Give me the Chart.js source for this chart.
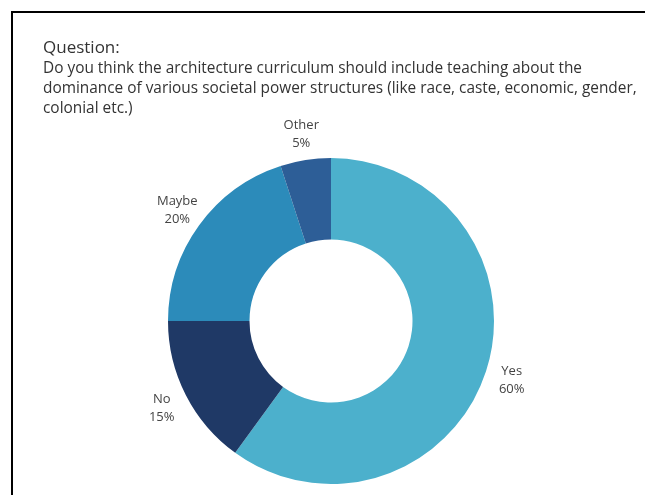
<!DOCTYPE html>
<html>
<head>
<meta charset="utf-8">
<script src="https://cdn.jsdelivr.net/npm/chart.js@4"></script>
<style>
  html, body { margin: 0; padding: 0; background: #fff; }
  body { width: 645px; height: 495px; position: relative; overflow: hidden; font-family: "Open Sans", sans-serif; }
  #frame { position: absolute; left: 11px; top: 11px; width: 700px; height: 600px; border-left: 2px solid #000; border-top: 2px solid #000; }
  #title { position: absolute; left: 43px; top: 35px; color: #333; z-index: 2; }
  #title .q { font-size: 17px; line-height: 23px; }
  #title .t { font-size: 15.4px; line-height: 20px; }
  #wrap { position: absolute; left: 0; top: 0; width: 645px; height: 495px; z-index: 1; }
</style>
</head>
<body>
<div id="frame"></div>
<div id="title">
  <div class="q">Question:</div>
  <div class="t">Do you think the architecture curriculum should include teaching about the<br>dominance of various societal power structures (like race, caste, economic, gender,<br>colonial etc.)</div>
</div>
<div id="wrap"><canvas id="pieChart" width="645" height="495"></canvas></div>
<script>
// data
const labels = ['Yes', 'No', 'Maybe', 'Other'];
const values = [60, 15, 20, 5];
const colors = ['#4cb0cc', '#1f3966', '#2c8bba', '#2d5e97'];

// label di luar donat
const outLabels = {
  id: 'outLabels',
  afterDatasetsDraw(chart) {
    const ctx = chart.ctx;
    const meta = chart.getDatasetMeta(0);
    ctx.save();
    ctx.fillStyle = '#444';
    ctx.font = '13px "Open Sans"';
    ctx.textAlign = 'center';
    ctx.textBaseline = 'middle';
    meta.data.forEach((arc, i) => {
      const mid = (arc.startAngle + arc.endAngle) / 2;
      const r = arc.outerRadius + 27;
      const x = arc.x + Math.cos(mid) * r;
      const y = arc.y + Math.sin(mid) * r;
      ctx.fillText(labels[i], x, y - 8);
      ctx.fillText(values[i] + '%', x, y + 10);
    });
    ctx.restore();
  }
};

new Chart(document.getElementById('pieChart'), {
  type: 'doughnut',
  data: {
    labels: labels,
    datasets: [{ data: values, backgroundColor: colors, borderWidth: 0 }]
  },
  options: {
    responsive: false,
    animation: false,
    cutout: '50%',
    layout: { padding: { left: 168, top: 158, right: 151, bottom: 11 } },
    plugins: { legend: { display: false }, tooltip: { enabled: false } }
  },
  plugins: [outLabels]
});
</script>
</body>
</html>
